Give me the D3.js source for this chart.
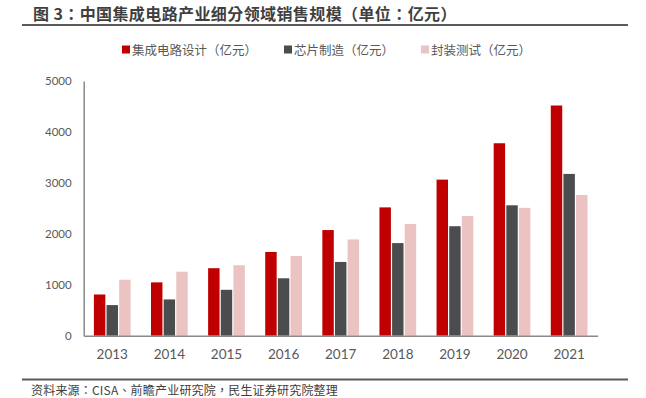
<!DOCTYPE html>
<html>
<head>
<meta charset="utf-8">
<script src="https://cdn.jsdelivr.net/npm/d3@7"></script>
<style>
  body { margin: 0; background: #fff; }
  svg { display: block; }
</style>
</head>
<body>
<div id="chart"></div>
<script>
// data (亿元)
const years = ["2013", "2014", "2015", "2016", "2017", "2018", "2019", "2020", "2021"];
const seriesNames = ["集成电路设计（亿元）", "芯片制造（亿元）", "封装测试（亿元）"];
const design = [809, 1047, 1325, 1644, 2074, 2519, 3064, 3778, 4519];
const manufacture = [601, 712, 901, 1127, 1448, 1818, 2149, 2560, 3176];
const packaging = [1099, 1256, 1384, 1564, 1890, 2194, 2350, 2510, 2763];
const yTicks = [0, 1000, 2000, 3000, 4000, 5000];

const W = 646, H = 398;
const colors = ["#c00000", "#4b4c4e", "#ebc3c3"];
const cjk = "'Noto Sans CJK SC', sans-serif";
const cjkTc = "'Noto Sans CJK TC', 'Noto Sans CJK SC', sans-serif";
const num = "Lato, 'Open Sans', sans-serif";

const svg = d3.select("#chart").append("svg")
    .attr("width", W)
    .attr("height", H);

// title + rules
svg.append("text")
    .attr("x", 33)
    .attr("y", 20)
    .style("font-family", cjkTc)
    .style("font-size", "16px")
    .style("font-weight", "bold")
    .style("letter-spacing", "0.4px")
    .attr("fill", "#3f3f3f")
    .text("图 3：中国集成电路产业细分领域销售规模（单位：亿元）");

svg.append("line")
    .attr("x1", 22).attr("x2", 628)
    .attr("y1", 25).attr("y2", 25)
    .attr("stroke", "#5a5a5a")
    .attr("stroke-width", 2);

svg.append("line")
    .attr("x1", 22).attr("x2", 628)
    .attr("y1", 379.5).attr("y2", 379.5)
    .attr("stroke", "#5a5a5a")
    .attr("stroke-width", 2);

svg.append("text")
    .attr("x", 31)
    .attr("y", 395)
    .style("font-family", cjkTc)
    .style("font-size", "12px")
    .style("letter-spacing", "0.2px")
    .attr("fill", "#404040")
    .text("资料来源：CISA、前瞻产业研究院，民生证券研究院整理");

// legend
const legendX = [122, 284, 421];
const legend = svg.selectAll(".legend")
    .data(seriesNames)
    .enter().append("g")
    .attr("class", "legend")
    .attr("transform", (d, i) => `translate(${legendX[i]}, 50)`);

legend.append("rect")
    .attr("x", 0)
    .attr("y", -4.5)
    .attr("width", 8)
    .attr("height", 8)
    .attr("fill", (d, i) => colors[i]);

legend.append("text")
    .attr("x", 10)
    .attr("y", 0)
    .attr("dy", "0.36em")
    .style("font-family", cjk)
    .style("font-size", "12.5px")
    .attr("fill", "#595959")
    .text(d => d);

// scales
const plot = { left: 83.7, right: 597.7, top: 81, bottom: 335.7 };

const x = d3.scaleBand()
    .domain(years)
    .range([plot.left, plot.right])
    .paddingInner(0.357)
    .paddingOuter(0.1785);

const xs = d3.scaleBand()
    .domain(d3.range(3))
    .range([0, x.bandwidth()])
    .paddingInner(0.095);

const y = d3.scaleLinear()
    .domain([0, 5000])
    .range([plot.bottom, plot.top]);

const table = years.map((yr, i) => ({
    year: yr,
    values: [design[i], manufacture[i], packaging[i]]
}));

// bars
const groups = svg.append("g")
    .selectAll("g")
    .data(table)
    .enter().append("g")
    .attr("transform", d => `translate(${x(d.year)},0)`);

groups.selectAll("rect")
    .data(d => d.values.map((v, k) => ({ k: k, v: v })))
    .enter().append("rect")
    .attr("x", d => xs(d.k))
    .attr("y", d => y(d.v))
    .attr("width", xs.bandwidth())
    .attr("height", d => y(0) - y(d.v))
    .attr("fill", d => colors[d.k]);

// y axis
const yAxis = svg.append("g")
    .attr("transform", `translate(${plot.left},0)`)
    .call(d3.axisLeft(y).tickValues(yTicks).tickSize(0).tickPadding(12).tickFormat(d3.format("d")));
yAxis.select(".domain").attr("stroke", "#898989").attr("stroke-width", 1.5);
yAxis.selectAll("text")
    .style("font-family", num)
    .style("font-size", "11.5px")
    .attr("fill", "#595959");

// x axis
const xAxis = svg.append("g")
    .attr("transform", `translate(0,${plot.bottom})`)
    .call(d3.axisBottom(x).tickSize(0).tickPadding(14));
xAxis.select(".domain").attr("stroke", "#898989").attr("stroke-width", 1.5);
xAxis.selectAll("text")
    .style("font-family", num)
    .style("font-size", "13.5px")
    .attr("fill", "#595959");
</script>
</body>
</html>
